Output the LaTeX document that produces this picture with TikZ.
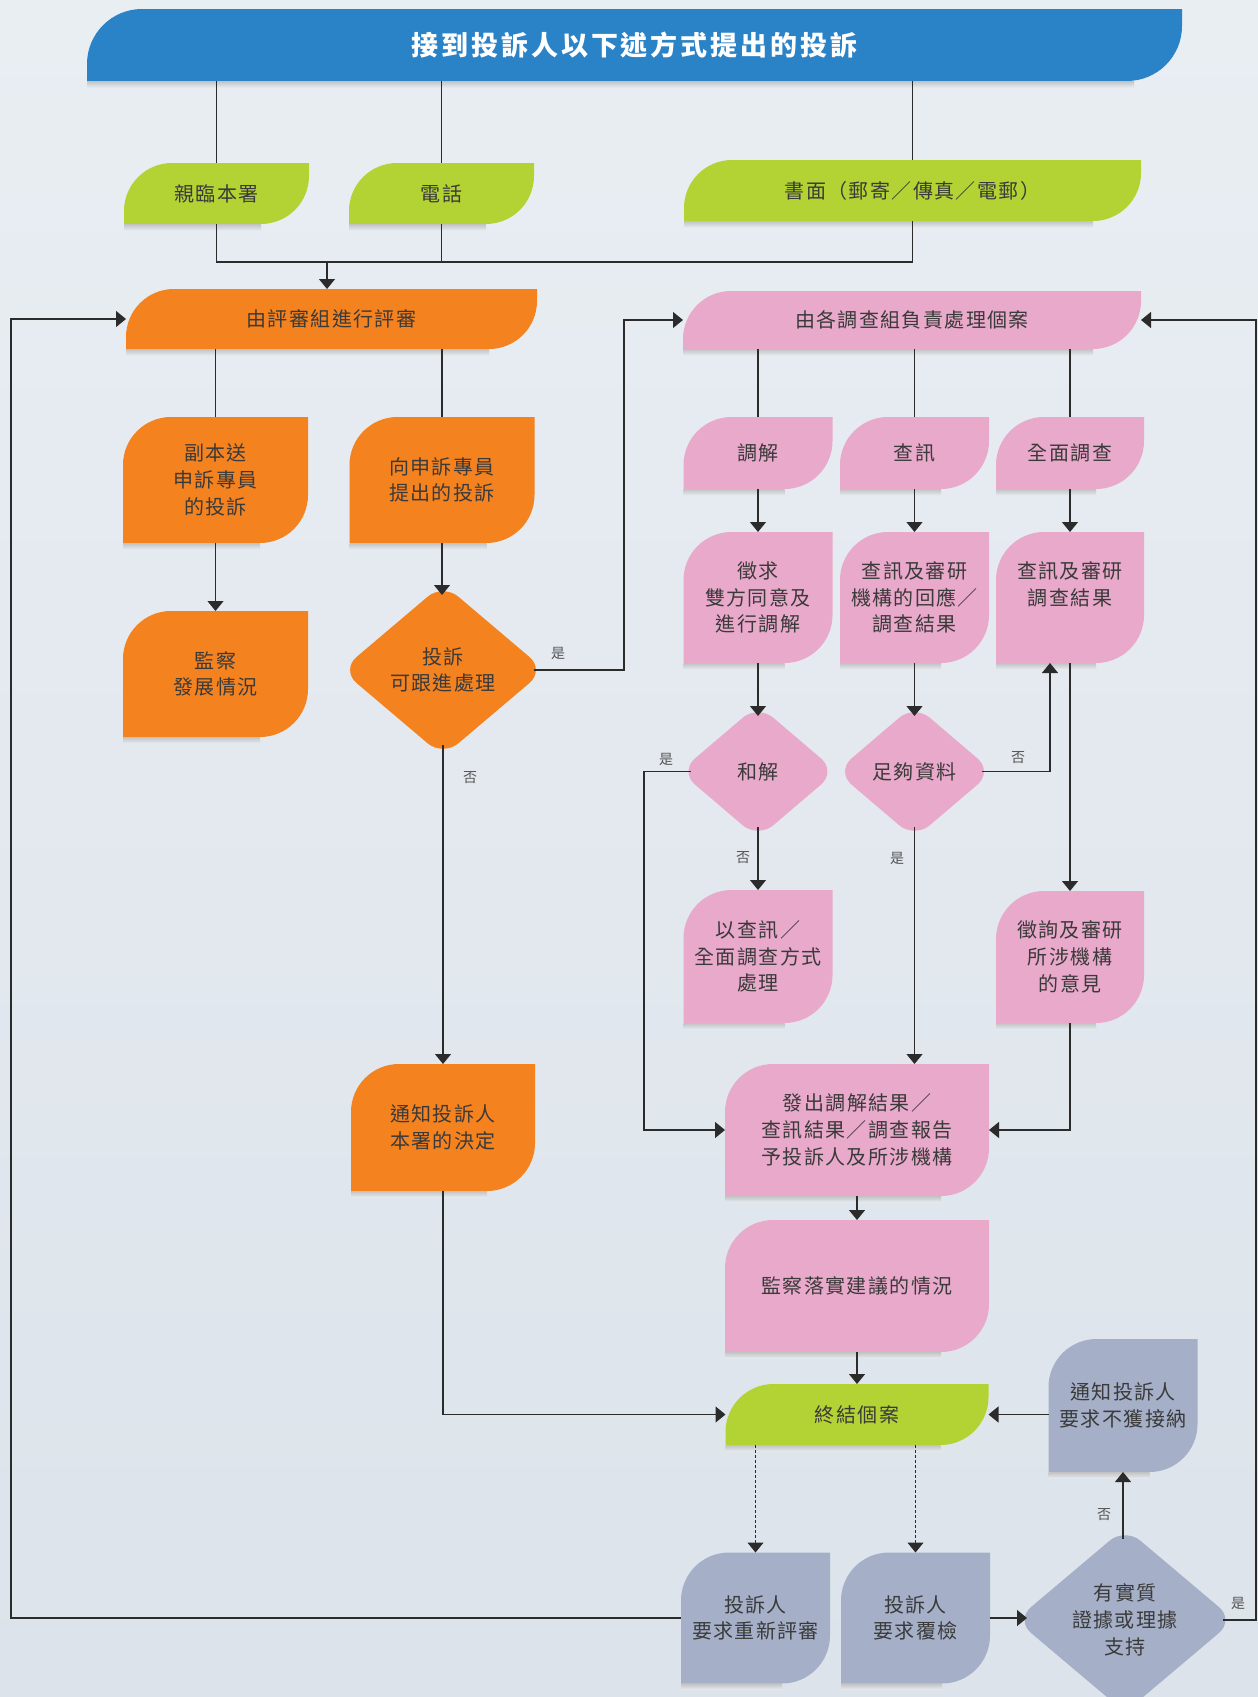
\documentclass[tikz,border=0pt]{standalone}
\usepackage{fontspec}
\setmainfont{Noto Sans CJK TC}[LetterSpace=7]
\newfontfamily\titlefont{Noto Sans CJK TC}[LetterSpace=11]
\usetikzlibrary{shapes.geometric,arrows.meta}

\definecolor{bannerblue}{HTML}{2A82C7}
\definecolor{leafgreen}{HTML}{B3D335}
\definecolor{reviewor}{HTML}{F3821F}
\definecolor{invpink}{HTML}{E9A9CB}
\definecolor{slate}{HTML}{A5B0C8}
\definecolor{bgtop}{HTML}{E9EEF3}
\definecolor{bgbot}{HTML}{DCE3EA}
\definecolor{bgmid}{HTML}{E3E9EF}
\definecolor{txtgray}{HTML}{3A3A3A}
\definecolor{linecol}{HTML}{2B2B2B}
\definecolor{tagcol}{HTML}{555555}

\newcommand\leafr{48pt}

\tikzset{
	leaf/.style={rectangle, inner sep=0pt, outer sep=0pt, align=center, text=txtgray,
		font=\fontsize{20}{26.7}\selectfont,
		path picture={\fill[#1] ([yshift=-\leafr]path picture bounding box.north west)
			arc[start angle=180, end angle=90, radius=\leafr]
			-- (path picture bounding box.north east)
			-- ([yshift=\leafr]path picture bounding box.south east)
			arc[start angle=0, end angle=-90, radius=\leafr]
			-- (path picture bounding box.south west) -- cycle;}},
	leaf radius/.code={\def\leafr{#1}},
	boxsize/.style 2 args={minimum width=#1pt, minimum height=#2pt},
	choice/.style={diamond, fill=#1, rounded corners=20pt, inner sep=0pt, outer sep=-8pt,
		aspect=1.18, align=center, text=txtgray, font=\fontsize{20}{26.7}\selectfont},
	tag/.style={text=tagcol, inner sep=1pt, font=\fontsize{14}{16}\selectfont},
	line/.style={draw=linecol, line width=1.2pt},
	arr/.style={line, -{Triangle[width=16pt,length=10pt]}},
	dasharr/.style={arr, line width=1pt, densely dashed},
}

\begin{document}
\begin{tikzpicture}[x=1pt, y=-1pt]
		\shade[top color=bgtop, bottom color=bgbot] (0, 0) rectangle (1258, 1697);
		\useasboundingbox (0, 0) rectangle (1258, 1697);
		
		\node[leaf=bannerblue, leaf radius=55pt, boxsize={1095}{72}, text=white,
			font=\titlefont\fontsize{27}{30}\selectfont\bfseries] (top) at (634.5, 45) {接到投訴人以下述方式提出的投訴};
		
		\node[leaf=leafgreen, boxsize={185}{61}] (kl) at (216.5, 193.5) {親臨本署};
		\node[leaf=leafgreen, boxsize={185}{61}] (tel) at (441.5, 193.5) {電話};
		\node[leaf=leafgreen, boxsize={457}{61}] (wr) at (912.5, 190.5) {書面（郵寄／傳真／電郵）};
		
		\node[leaf=reviewor, boxsize={411}{60}] (review) at (331.5, 319) {由評審組進行評審};
		\node[leaf=invpink, boxsize={458}{58}] (inv) at (912, 320) {由各調查組負責處理個案};
		
		\node[leaf=reviewor, boxsize={185}{126}] (fsub) at (215.5, 480) {副本送\\申訴專員\\的投訴};
		\node[leaf=reviewor, boxsize={185}{126}] (fdir) at (442, 480) {向申訴專員\\提出的投訴};
		\node[leaf=reviewor, boxsize={185}{126}] (monitor) at (215.5, 674) {監察\\發展情況};
		\node[choice=reviewor, minimum width=197pt, minimum height=166pt] (follow) at (443, 670) {投訴\\可跟進處理};
		\node[leaf=reviewor, boxsize={184}{127}] (notify) at (443, 1127.5) {通知投訴人\\本署的決定};
		
		\node[leaf=invpink, boxsize={149}{72}] (med) at (758, 453) {調解};
		\node[leaf=invpink, boxsize={149}{72}] (inq) at (914.5, 453) {查訊};
		\node[leaf=invpink, boxsize={148}{72}] (full) at (1070, 453) {全面調查};
		\node[leaf=invpink, boxsize={149}{131}] (seek) at (758, 597.5) {徵求\\雙方同意及\\進行調解};
		\node[leaf=invpink, boxsize={149}{131}] (inqres) at (914.5, 597.5) {查訊及審研\\機構的回應／\\調查結果};
		\node[leaf=invpink, boxsize={148}{131}] (fullres) at (1070, 597.5) {查訊及審研\\調查結果\\\phantom{調}};
		\node[choice=invpink, minimum width=150pt, minimum height=127pt] (settle) at (758, 771.5) {和解};
		\node[choice=invpink, minimum width=150pt, minimum height=127pt] (enough) at (914.5, 771.5) {足夠資料};
		\node[leaf=invpink, boxsize={149}{133}] (alt) at (758, 956.5) {以查訊／\\全面調查方式\\處理};
		\node[leaf=invpink, boxsize={148}{132}] (consult) at (1070, 957) {徵詢及審研\\所涉機構\\的意見};
		\node[leaf=invpink, boxsize={264}{132}] (issue) at (857, 1130) {發出調解結果／\\查訊結果／調查報告\\予投訴人及所涉機構};
		\node[leaf=invpink, boxsize={264}{132}] (watch) at (857, 1286) {監察落實建議的情況};
		
		\node[leaf=leafgreen, boxsize={263}{61}] (close) at (857, 1414.5) {終結個案};
		\node[leaf=slate, boxsize={149}{133}] (notice) at (1123, 1405.5) {通知投訴人\\要求不獲接納};
		\node[leaf=slate, boxsize={149}{131}] (rereview) at (755.5, 1618) {投訴人\\要求重新評審};
		\node[leaf=slate, boxsize={149}{131}] (appeal) at (915.5, 1618) {投訴人\\要求覆檢};
		\node[choice=slate, aspect=1.19, minimum width=212pt, minimum height=178pt] (evid) at (1125, 1620) {有實質\\證據或理據\\支持};
		
		% shadows under the boxes
		\foreach \n in {top, kl, tel, wr, review, inv, fsub, fdir, monitor, notify, med, inq, full,
			seek, inqres, fullres, alt, consult, issue, watch, close, notice, rereview, appeal}
			\shade[top color=black!24, bottom color=bgmid] (\n.south west) rectangle ([xshift=-48pt, yshift=-6pt]\n.south east);
		
		% ways in
		\draw[line] (kl.north |- top.south) -- (kl.north);
		\draw[line] (tel.north |- top.south) -- (tel.north);
		\draw[line] (wr.north |- top.south) -- (wr.north);
		\coordinate (join) at (327, 262);
		\draw[line] (kl.south) |- (join) -| (wr.south);
		\draw[line] (tel.south) -- (tel.south |- join);
		\draw[arr] (join) -- (join |- review.north);
		
		% review side
		\draw[line] (fsub.north |- review.south) -- (fsub.north);
		\draw[line] (fdir.north |- review.south) -- (fdir.north);
		\draw[arr] (fsub) -- (monitor);
		\draw[arr] (fdir.south) -- (fdir.south |- follow.north);
		\draw[arr] (follow.east) -| ([xshift=-59pt]inv.west) -- (inv.west);
		\node[tag] (yes1) at (558, 653) {是};
		\draw[arr] (follow) -- (notify);
		\node[tag] (no1) at (470, 778) {否};
		\draw[arr] (notify.south) |- (close.west);
		
		% investigation side
		\draw[line] (med.north |- inv.south) -- (med.north);
		\draw[line] (inq.north |- inv.south) -- (inq.north);
		\draw[line] (full.north |- inv.south) -- (full.north);
		\draw[arr] (med) -- (seek);
		\draw[arr] (inq) -- (inqres);
		\draw[arr] (full) -- (fullres);
		\draw[arr] (seek) -- (settle);
		\draw[arr] (inqres) -- (enough);
		\draw[arr] (settle) -- (alt);
		\node[tag] (no2) at (743, 858) {否};
		\draw[arr] (settle.west) -| ([xshift=-81pt]issue.west) -- (issue.west);
		\node[tag] (yes2) at (666, 759) {是};
		\draw[arr] (enough.south) -- (enough.south |- issue.north);
		\node[tag] (yes3) at (897, 858) {是};
		\draw[arr] (enough.east) -| ([xshift=-20pt]fullres.south);
		\node[tag] (no3) at (1018, 758) {否};
		\draw[arr] (fullres) -- (consult);
		\draw[arr] (consult.south) |- (issue.east);
		\draw[arr] (issue) -- (watch);
		\draw[arr] (watch) -- (close);
		
		% after closing
		\draw[arr] (notice.west |- close.east) -- (close.east);
		\draw[dasharr] (close.south -| rereview.north) -- (rereview.north);
		\draw[dasharr] (close.south -| appeal.north) -- (appeal.north);
		\draw[arr] (appeal.east) -- (appeal.east -| evid.west);
		\draw[arr] (evid.north -| notice.south) -- (notice.south);
		\node[tag] (no4) at (1104, 1515) {否};
		\draw[arr] (evid.east) -| ([xshift=115pt]inv.east) -- (inv.east);
		\node[tag] (yes4) at (1238, 1603) {是};
		\draw[arr] (rereview.west) -| ([xshift=-115pt]review.west) -- (review.west);
	\end{tikzpicture}
\end{document}
